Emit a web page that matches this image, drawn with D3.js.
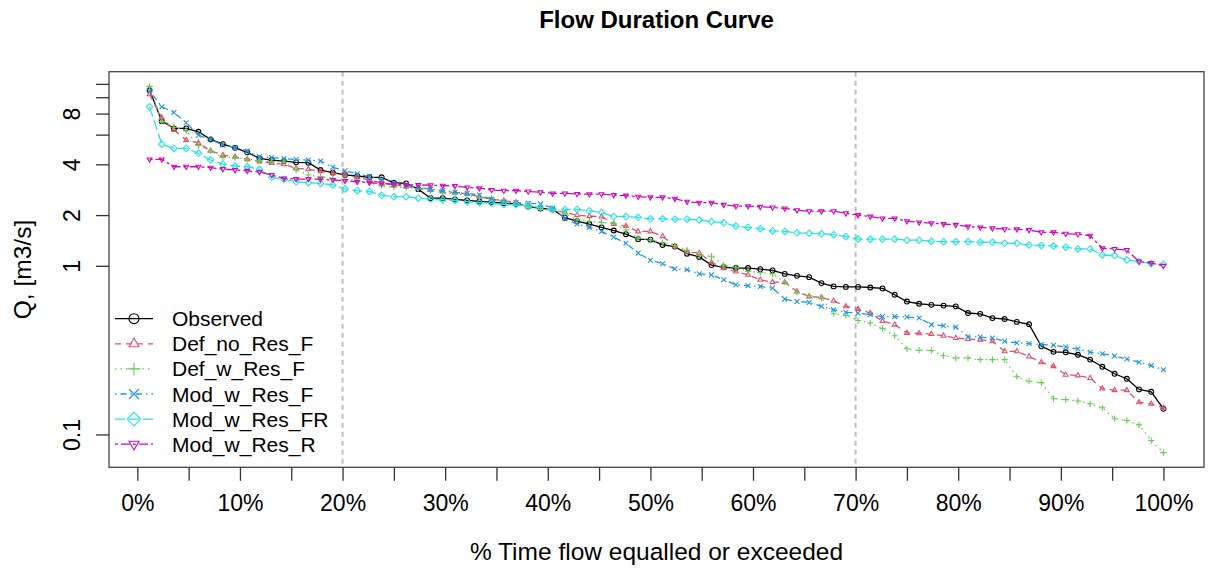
<!DOCTYPE html>
<html>
<head>
<meta charset="utf-8">
<script src="https://cdn.jsdelivr.net/npm/d3@7"></script>
<style>
  body { margin: 0; background: #fff; }
  text { font-family: "Liberation Sans", Arial, sans-serif; fill: #000; }
</style>
</head>
<body>
<svg></svg>
<script>
// series names and flows [m3/s], sorted from highest to lowest (84 ranks)
const seriesNames = ["Observed", "Def_no_Res_F", "Def_w_Res_F", "Mod_w_Res_F", "Mod_w_Res_FR", "Mod_w_Res_R"];

const observed = [11.0, 7.21, 6.53, 6.53, 6.24, 5.62, 5.27, 5.01, 4.71, 4.34, 4.24, 4.18, 4.11, 4.09, 3.70, 3.57, 3.46, 3.41, 3.35, 3.35,
  3.11, 3.08, 2.85, 2.52, 2.52, 2.48, 2.44, 2.41, 2.39, 2.35, 2.33, 2.25, 2.19, 2.16, 1.93, 1.84, 1.77, 1.69, 1.62, 1.54,
  1.44, 1.43, 1.33, 1.30, 1.18, 1.13, 1.01, 0.98, 0.97, 0.97, 0.955, 0.94, 0.896, 0.872, 0.857, 0.79, 0.755, 0.75, 0.75, 0.744,
  0.735, 0.674, 0.614, 0.596, 0.587, 0.581, 0.575, 0.525, 0.519, 0.49, 0.484, 0.465, 0.45, 0.333, 0.309, 0.307, 0.297, 0.278, 0.252, 0.229,
  0.214, 0.185, 0.179, 0.142];

const defNoResF = [10.4, 7.57, 6.38, 5.57, 5.36, 4.81, 4.54, 4.43, 4.28, 4.16, 4.07, 4.0, 3.79, 3.74, 3.64, 3.54, 3.46, 3.35, 3.23, 3.1,
  3.02, 2.95, 2.89, 2.82, 2.76, 2.72, 2.67, 2.57, 2.48, 2.44, 2.37, 2.30, 2.20, 2.14, 2.07, 2.0, 1.97, 1.96, 1.77, 1.72,
  1.60, 1.60, 1.50, 1.30, 1.21, 1.19, 1.05, 0.97, 0.925, 0.884, 0.826, 0.80, 0.80, 0.705, 0.658, 0.65, 0.62, 0.575, 0.555, 0.525,
  0.47, 0.448, 0.40, 0.398, 0.394, 0.385, 0.373, 0.368, 0.365, 0.357, 0.311, 0.311, 0.290, 0.268, 0.254, 0.226, 0.224, 0.216, 0.187, 0.183,
  0.183, 0.155, 0.152, 0.144];

const defWResF = [11.6, 7.18, 6.64, 6.32, 5.17, 4.79, 4.39, 4.38, 4.30, 4.19, 4.15, 4.12, 3.70, 3.46, 3.38, 3.30, 3.26, 3.2, 3.11, 2.98,
  2.93, 2.91, 2.87, 2.80, 2.72, 2.69, 2.63, 2.55, 2.52, 2.40, 2.30, 2.24, 2.16, 2.14, 2.05, 1.87, 1.84, 1.81, 1.79, 1.63,
  1.46, 1.42, 1.37, 1.32, 1.24, 1.15, 1.14, 1.01, 0.98, 0.925, 0.913, 0.896, 0.80, 0.695, 0.664, 0.644, 0.52, 0.508, 0.474, 0.458,
  0.425, 0.385, 0.322, 0.316, 0.315, 0.293, 0.284, 0.284, 0.278, 0.278, 0.278, 0.22, 0.207, 0.203, 0.163, 0.161, 0.158, 0.152, 0.144, 0.124,
  0.121, 0.114, 0.092, 0.078];

const modWResF = [10.9, 8.77, 8.12, 7.05, 5.96, 5.62, 5.20, 5.04, 4.79, 4.43, 4.39, 4.33, 4.27, 4.24, 4.18, 3.84, 3.66, 3.51, 3.38, 3.27,
  3.13, 3.02, 2.92, 2.85, 2.80, 2.73, 2.69, 2.63, 2.48, 2.40, 2.37, 2.35, 2.33, 2.20, 1.91, 1.77, 1.69, 1.60, 1.48, 1.36,
  1.19, 1.08, 1.03, 0.96, 0.947, 0.896, 0.884, 0.826, 0.772, 0.762, 0.755, 0.738, 0.635, 0.614, 0.607, 0.575, 0.549, 0.53, 0.525, 0.513,
  0.50, 0.50, 0.497, 0.49, 0.448, 0.441, 0.433, 0.38, 0.378, 0.373, 0.357, 0.349, 0.346, 0.341, 0.338, 0.33, 0.321, 0.307, 0.301, 0.292,
  0.28, 0.268, 0.256, 0.242];

const modWResFR = [8.77, 5.27, 4.97, 4.97, 4.65, 4.24, 4.01, 3.91, 3.87, 3.74, 3.35, 3.26, 3.15, 3.11, 3.08, 3.02, 2.86, 2.79, 2.76, 2.62,
  2.57, 2.57, 2.52, 2.48, 2.46, 2.44, 2.40, 2.37, 2.35, 2.31, 2.30, 2.26, 2.22, 2.16, 2.16, 2.16, 2.12, 2.07, 1.96, 1.96,
  1.94, 1.90, 1.90, 1.89, 1.89, 1.87, 1.83, 1.80, 1.72, 1.69, 1.66, 1.61, 1.60, 1.57, 1.56, 1.55, 1.53, 1.49, 1.44, 1.44,
  1.44, 1.44, 1.42, 1.42, 1.40, 1.39, 1.39, 1.39, 1.38, 1.38, 1.36, 1.36, 1.33, 1.32, 1.31, 1.29, 1.26, 1.26, 1.16, 1.15,
  1.085, 1.06, 1.03, 1.02];

const modWResR = [4.28, 4.28, 3.87, 3.87, 3.87, 3.82, 3.75, 3.70, 3.66, 3.60, 3.46, 3.30, 3.27, 3.27, 3.26, 3.23, 3.19, 3.15, 3.11, 3.08,
  3.05, 3.02, 3.02, 3.01, 2.99, 2.98, 2.92, 2.89, 2.82, 2.79, 2.79, 2.76, 2.73, 2.69, 2.69, 2.67, 2.66, 2.66, 2.63, 2.61,
  2.57, 2.55, 2.55, 2.50, 2.40, 2.37, 2.37, 2.30, 2.26, 2.26, 2.24, 2.22, 2.19, 2.14, 2.11, 2.11, 2.11, 2.05, 2.00, 1.96,
  1.91, 1.91, 1.84, 1.81, 1.79, 1.77, 1.75, 1.71, 1.69, 1.67, 1.65, 1.65, 1.63, 1.58, 1.58, 1.55, 1.54, 1.51, 1.27, 1.26,
  1.24, 1.06, 1.04, 1.00];

const yTicks = [0.1, 1, 2, 4, 6, 8, 10, 12];
const yTickLabels = {0.1: "0.1", 1: "1", 2: "2", 4: "4", 8: "8"};
const xTicks = d3.range(0, 101, 5);
const xTickLabels = [0, 10, 20, 30, 40, 50, 60, 70, 80, 90, 100];
const refLines = [20, 70];

const colors = ["#000000", "#DF536B", "#61D04F", "#2297E6", "#28E2E5", "#CD0BBC"];
const dashes = ["none", "6,5", "1.5,4", "1.5,4,6,4", "10,4", "3,3,9,3"];
const shapes = ["circle", "triUp", "plus", "cross", "diamond", "triDown"];

const allSeries = [observed, defNoResF, defWResF, modWResF, modWResFR, modWResR];

const W = 1209, H = 572;
const box = {left: 109, right: 1204, top: 71.7, bottom: 467.3};

const svg = d3.select("svg").attr("width", W).attr("height", H);

// exceedance percentage of each rank
const n = observed.length;
const pct = observed.map((d, i) => (i + 1) / n * 100);

// R style 4% padding of the data range
const xExt = d3.extent(pct);
const xPad = (xExt[1] - xExt[0]) * 0.04;
const x = d3.scaleLinear().domain([xExt[0] - xPad, xExt[1] + xPad]).range([box.left, box.right]);

const allVals = allSeries.flat();
const lo = Math.log10(d3.min(allVals)), hi = Math.log10(d3.max(allVals));
const yPad = (hi - lo) * 0.04;
const y = d3.scaleLog().domain([Math.pow(10, lo - yPad), Math.pow(10, hi + yPad)]).range([box.bottom, box.top]);

function symbolPath(shape, s) {
  switch (shape) {
    case "triUp": return `M0,${-s * 1.15}L${s},${s * 0.6}L${-s},${s * 0.6}Z`;
    case "triDown": return `M0,${s * 1.15}L${s},${-s * 0.6}L${-s},${-s * 0.6}Z`;
    case "plus": return `M${-s * 1.3},0H${s * 1.3}M0,${-s * 1.3}V${s * 1.3}`;
    case "cross": return `M${-s},${-s}L${s},${s}M${-s},${s}L${s},${-s}`;
    case "diamond": return `M0,${-s * 1.35}L${s * 1.35},0L0,${s * 1.35}L${-s * 1.35},0Z`;
  }
}

function drawMark(g, shape, s, color) {
  if (shape === "circle") {
    g.append("circle").attr("r", s).attr("fill", "none").attr("stroke", color).attr("stroke-width", 1.1);
  } else {
    g.append("path").attr("d", symbolPath(shape, s)).attr("fill", "none").attr("stroke", color).attr("stroke-width", 1.1);
  }
}

// reference lines
svg.append("g")
  .selectAll("line")
  .data(refLines)
  .join("line")
  .attr("x1", d => x(d)).attr("x2", d => x(d))
  .attr("y1", box.top).attr("y2", box.bottom)
  .attr("stroke", "#bebebe")
  .attr("stroke-width", 2)
  .attr("stroke-dasharray", "5,4");

// curves
const line = d3.line().x((d, i) => x(pct[i])).y(d => y(d));

allSeries.forEach((vals, k) => {
  svg.append("path")
    .datum(vals)
    .attr("d", line)
    .attr("fill", "none")
    .attr("stroke", colors[k])
    .attr("stroke-width", 1.3)
    .attr("stroke-dasharray", dashes[k]);

  svg.append("g")
    .selectAll("g")
    .data(vals)
    .join("g")
    .attr("transform", (d, i) => `translate(${x(pct[i])},${y(d)})`)
    .each(function () { drawMark(d3.select(this), shapes[k], 2.4, colors[k]); });
});

// box
svg.append("rect")
  .attr("x", box.left).attr("y", box.top)
  .attr("width", box.right - box.left).attr("height", box.bottom - box.top)
  .attr("fill", "none").attr("stroke", "#444").attr("stroke-width", 1.3);

// y axis
const yAxis = svg.append("g")
  .attr("transform", `translate(${box.left},0)`)
  .call(d3.axisLeft(y).tickValues(yTicks).tickSize(13).tickFormat(d => yTickLabels[d] || ""));
yAxis.select(".domain").remove();
yAxis.selectAll(".tick line").attr("stroke", "#333").attr("stroke-width", 1.3);
yAxis.selectAll(".tick text")
  .attr("transform", "rotate(-90)")
  .attr("x", 0).attr("y", -29).attr("dy", 0)
  .attr("text-anchor", "middle")
  .style("font-size", "23px")
  .style("font-family", "'Liberation Sans', Arial, sans-serif");

// x axis
const xAxis = svg.append("g")
  .attr("transform", `translate(0,${box.bottom})`)
  .call(d3.axisBottom(x).tickValues(xTicks).tickSize(13.5)
    .tickFormat(d => xTickLabels.includes(d) ? d + "%" : ""));
xAxis.select(".domain").remove();
xAxis.selectAll(".tick line").attr("stroke", "#333").attr("stroke-width", 1.3);
xAxis.selectAll(".tick text")
  .attr("y", 44).attr("dy", 0)
  .style("font-size", "23px")
  .style("font-family", "'Liberation Sans', Arial, sans-serif");

// titles
svg.append("text")
  .attr("x", (box.left + box.right) / 2).attr("y", 28)
  .attr("text-anchor", "middle")
  .style("font-size", "24px").style("font-weight", "bold")
  .text("Flow Duration Curve");

svg.append("text")
  .attr("x", (box.left + box.right) / 2).attr("y", 560)
  .attr("text-anchor", "middle")
  .style("font-size", "24.5px")
  .text("% Time flow equalled or exceeded");

svg.append("text")
  .attr("transform", `translate(31,${(box.top + box.bottom) / 2}) rotate(-90)`)
  .attr("text-anchor", "middle")
  .style("font-size", "24.5px")
  .text("Q, [m3/s]");

// legend
const legend = svg.append("g").attr("transform", "translate(115,318.7)");
const rows = legend.selectAll("g")
  .data(seriesNames)
  .join("g")
  .attr("transform", (d, i) => `translate(0,${i * 25.1})`);

rows.append("line")
  .attr("x1", 0).attr("x2", 38).attr("y1", 0).attr("y2", 0)
  .attr("stroke", (d, i) => colors[i])
  .attr("stroke-width", 1.3)
  .attr("stroke-dasharray", (d, i) => dashes[i]);
rows.each(function (d, i) {
  const g = d3.select(this).append("g").attr("transform", "translate(19,0)");
  drawMark(g, shapes[i], 5, colors[i]);
});
rows.append("text")
  .attr("x", 57).attr("y", 7.5)
  .style("font-size", "21px")
  .text(d => d);
</script>
</body>
</html>
